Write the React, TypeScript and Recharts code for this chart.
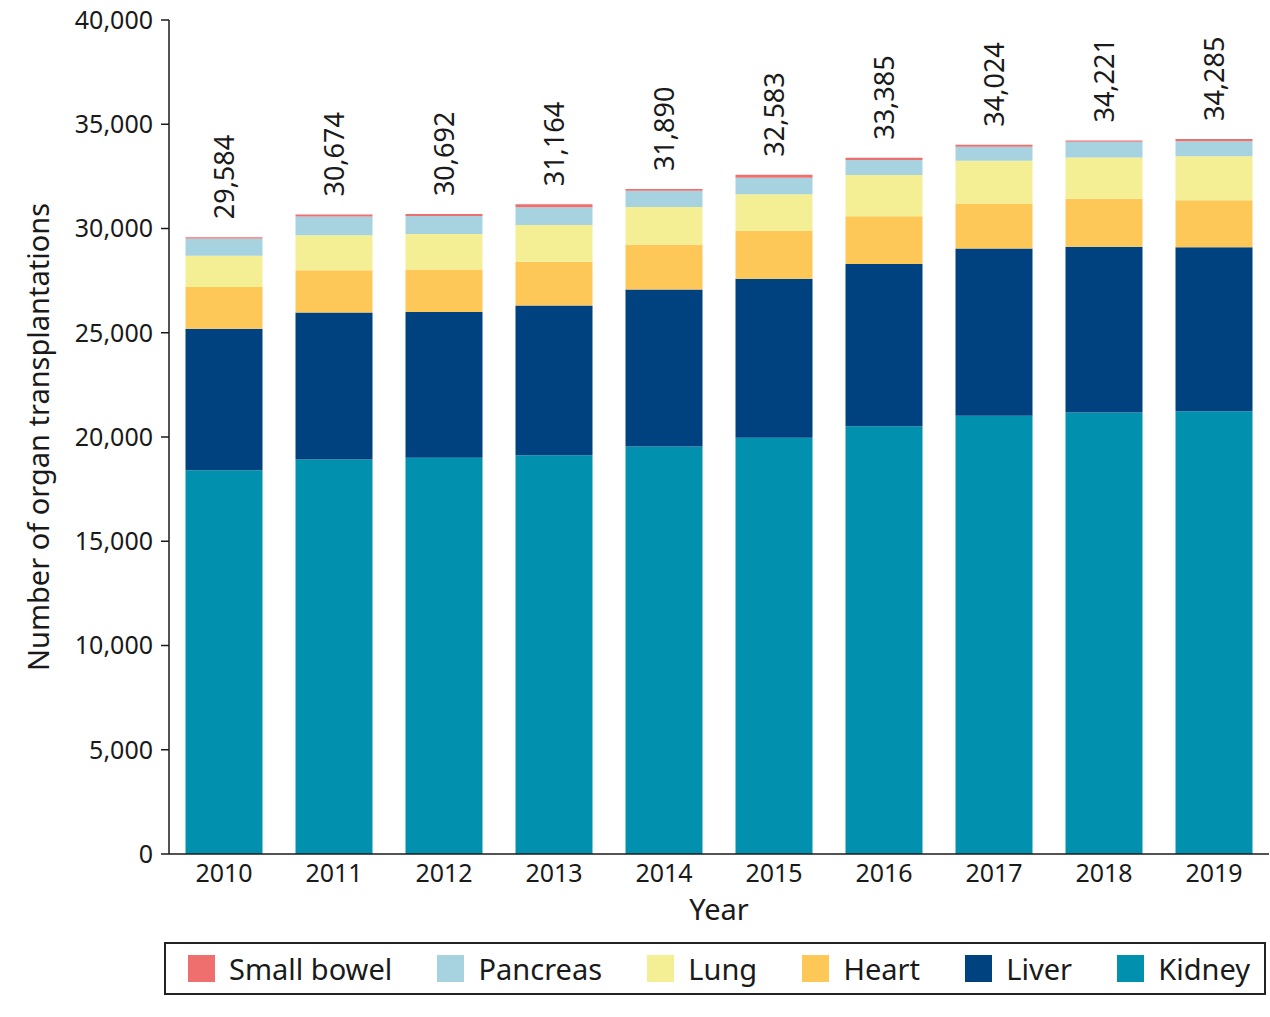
import { BarChart, Bar, XAxis, YAxis, Legend, LabelList } from 'recharts';

const years = ['2010', '2011', '2012', '2013', '2014', '2015', '2016', '2017', '2018', '2019'];
const kidney = [18410, 18920, 19000, 19120, 19550, 19960, 20520, 21020, 21170, 21230];
const liver = [6780, 7050, 7000, 7190, 7520, 7630, 7780, 8020, 7960, 7870];
const heart = [2000, 2030, 2030, 2100, 2160, 2290, 2290, 2160, 2300, 2250];
const lung = [1500, 1680, 1710, 1760, 1800, 1760, 1980, 2050, 1980, 2110];
const pancreas = [830, 890, 860, 850, 780, 800, 720, 670, 750, 720];
const smallBowel = [60, 100, 90, 140, 80, 140, 100, 100, 60, 110];
const totals = [29584, 30674, 30692, 31164, 31890, 32583, 33385, 34024, 34221, 34285];
const yTicks = [0, 5000, 10000, 15000, 20000, 25000, 30000, 35000, 40000];

const FONT = '"Noto Sans", sans-serif';
const INK = '#1a1a1a';

// bottom to top of each stack
const series = [
  { key: 'kidney', name: 'Kidney', color: '#0191ae' },
  { key: 'liver', name: 'Liver', color: '#00417f' },
  { key: 'heart', name: 'Heart', color: '#fec858' },
  { key: 'lung', name: 'Lung', color: '#f4ef94' },
  { key: 'pancreas', name: 'Pancreas', color: '#a6d3df' },
  { key: 'smallBowel', name: 'Small bowel', color: '#ef6e6e' },
];
const legendOrder = ['Small bowel', 'Pancreas', 'Lung', 'Heart', 'Liver', 'Kidney'];

const data = years.map((year, i) => ({
  year,
  kidney: kidney[i],
  liver: liver[i],
  heart: heart[i],
  lung: lung[i],
  pancreas: pancreas[i],
  smallBowel: smallBowel[i],
  total: totals[i],
}));

const fmt = (v: number) => v.toLocaleString('en-US');

function TotalLabel(props: any) {
  const { x, y, width, value } = props;
  const cx = Number(x) + Number(width) / 2;
  const ty = Number(y) - 18;
  return (
    <text
      x={cx}
      y={ty}
      transform={`rotate(-90 ${cx} ${ty})`}
      textAnchor="start"
      dominantBaseline="central"
      fontSize={27}
      fontFamily={FONT}
      fill={INK}
    >
      {fmt(Number(value))}
    </text>
  );
}

function LegendBox() {
  return (
    <div
      style={{
        boxSizing: 'border-box',
        width: 1102,
        height: 53,
        border: '2px solid #222',
        display: 'flex',
        alignItems: 'center',
        justifyContent: 'space-between',
        padding: '0 14px 0 22px',
        fontFamily: FONT,
        fontSize: 29,
        color: INK,
      }}
    >
      {legendOrder.map((name) => {
        const s = series.find((d) => d.name === name)!;
        return (
          <span key={name} style={{ display: 'flex', alignItems: 'center' }}>
            <span style={{ display: 'inline-block', width: 27, height: 27, background: s.color, marginRight: 14 }} />
            {name}
          </span>
        );
      })}
    </div>
  );
}

export default function App() {
  return (
    <div style={{ position: 'absolute', left: 0, top: 0, background: '#fff' }}>
      <BarChart
        width={1270}
        height={1000}
        data={data}
        margin={{ top: 20, right: 1, left: 0, bottom: 17 }}
        barCategoryGap="15%"
      >
        <XAxis
          dataKey="year"
          height={76}
          tickLine={false}
          tickSize={8}
          axisLine={{ stroke: INK, strokeWidth: 1.5 }}
          tick={{ fontSize: 25, fill: INK, fontFamily: FONT }}
          label={{ value: 'Year', position: 'insideBottom', offset: 10, fontSize: 29, fill: INK, fontFamily: FONT }}
        />
        <YAxis
          width={169}
          domain={[0, 40000]}
          ticks={yTicks}
          tickFormatter={fmt}
          tickSize={8}
          tickMargin={8}
          axisLine={{ stroke: INK, strokeWidth: 1.5 }}
          tickLine={{ stroke: INK, strokeWidth: 1.5 }}
          tick={{ fontSize: 25, fill: INK, fontFamily: FONT }}
          label={{
            value: 'Number of organ transplantations',
            angle: -90,
            position: 'center',
            dx: -46,
            fontSize: 29,
            fill: INK,
            fontFamily: FONT,
          }}
        />
        <Legend
          verticalAlign="bottom"
          content={() => <LegendBox />}
          wrapperStyle={{ top: 942, left: 164, bottom: 'auto', width: 1102 }}
        />
        {series.map((s) => (
          <Bar key={s.key} dataKey={s.key} name={s.name} stackId="a" fill={s.color} isAnimationActive={false}>
            {s.key === 'smallBowel' && <LabelList dataKey="total" content={<TotalLabel />} />}
          </Bar>
        ))}
      </BarChart>
    </div>
  );
}
